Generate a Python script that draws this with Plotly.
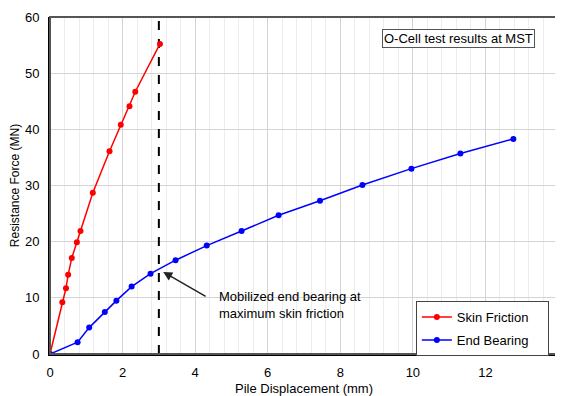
import plotly.graph_objects as go

# Skin Friction data
skin_disp = [0.0, 0.34, 0.44, 0.50, 0.60, 0.74, 0.84, 1.18, 1.64, 1.95, 2.19, 2.35, 3.03]
skin_force = [0.0, 9.2, 11.7, 14.1, 17.1, 19.9, 21.9, 28.7, 36.1, 40.8, 44.1, 46.7, 55.2]

# End Bearing data
end_disp = [0.0, 0.76, 1.08, 1.51, 1.83, 2.25, 2.77, 3.46, 4.32, 5.28, 6.30, 7.44, 8.61, 9.96, 11.31, 12.77]
end_force = [0.0, 2.1, 4.7, 7.5, 9.5, 12.0, 14.3, 16.7, 19.3, 21.9, 24.7, 27.3, 30.1, 33.0, 35.7, 38.3]

# Vertical marker at maximum skin friction displacement
max_skin_x = [3.0, 3.0]
max_skin_y = [0.0, 60.0]

x_ticks = [0, 2, 4, 6, 8, 10, 12, 14]
y_ticks = [0, 10, 20, 30, 40, 50, 60]

FONT = "Liberation Sans, Arial, sans-serif"
FS = 13
PAD = "\u00a0" * 4

fig = go.Figure()

fig.add_trace(go.Scatter(
    x=max_skin_x, y=max_skin_y, mode="lines",
    line=dict(color="black", width=2, dash="dash"),
    showlegend=False, hoverinfo="skip"))

fig.add_trace(go.Scatter(
    x=skin_disp, y=skin_force, mode="lines+markers", name="Skin Friction" + PAD,
    legendgroup="a",
    line=dict(color="#ff0000", width=1.5),
    marker=dict(color="#ff0000", size=6)))

fig.add_trace(go.Scatter(
    x=end_disp, y=end_force, mode="lines+markers", name="End Bearing" + PAD,
    legendgroup="b",
    line=dict(color="#0000ff", width=1.5),
    marker=dict(color="#0000ff", size=6)))

fig.update_xaxes(
    range=[0, 14], tickvals=x_ticks, ticks="", ticklabelstandoff=5,
    automargin=False,
    showgrid=True, gridcolor="#d4d4d4", gridwidth=1,
    minor=dict(dtick=0.4, showgrid=True, gridcolor="#ececec", gridwidth=1),
    showline=True, linecolor="black", linewidth=2, zeroline=False,
    title=dict(text="Pile Displacement (mm)", font=dict(size=FS, color="black", family=FONT)),
    tickfont=dict(size=FS, color="black", family=FONT))

fig.update_yaxes(
    range=[0, 60], tickvals=y_ticks, ticks="", ticklabelstandoff=6,
    automargin=False,
    showgrid=True, gridcolor="#d4d4d4", gridwidth=1,
    showline=True, linecolor="black", linewidth=2, zeroline=False,
    title=dict(text="Resistance Force (MN)", font=dict(size=FS - 1, color="black", family=FONT)),
    tickfont=dict(size=FS, color="black", family=FONT))

# plot-area border (top/right)
fig.add_shape(type="rect", xref="paper", yref="paper", x0=0, y0=0, x1=1, y1=1,
              line=dict(color="#555555", width=2), layer="above")

# Title box
fig.add_annotation(
    xref="paper", yref="paper", x=0.955, y=0.964, xanchor="right", yanchor="top",
    text="O-Cell test results at MST", showarrow=False,
    font=dict(size=FS, color="black", family=FONT),
    bordercolor="#555555", borderwidth=1, borderpad=1, bgcolor="white")

# Arrow
fig.add_annotation(
    x=3.12, y=14.6, ax=4.33, ay=10.1, axref="x", ayref="y", xref="x", yref="y",
    text="", showarrow=True, arrowhead=2, arrowsize=1.2, arrowwidth=1.5, arrowcolor="#222222")

# Annotation text
fig.add_annotation(
    x=4.6, y=12.0, xref="x", yref="y", xanchor="left", yanchor="top", align="left",
    text="Mobilized end bearing at<br>maximum skin friction", showarrow=False,
    font=dict(size=FS, color="black", family=FONT))

fig.update_layout(
    width=555, height=388,
    margin=dict(l=42, r=5, t=9, b=42),
    paper_bgcolor="white", plot_bgcolor="white",
    font=dict(family=FONT, color="black"),
    legend=dict(
        x=0.982, y=0.157, xanchor="right", yanchor="top",
        bgcolor="white", bordercolor="#444444", borderwidth=1,
        font=dict(size=FS, color="black", family=FONT),
        itemwidth=30, tracegroupgap=3),
)

fig.write_html("out.html")
